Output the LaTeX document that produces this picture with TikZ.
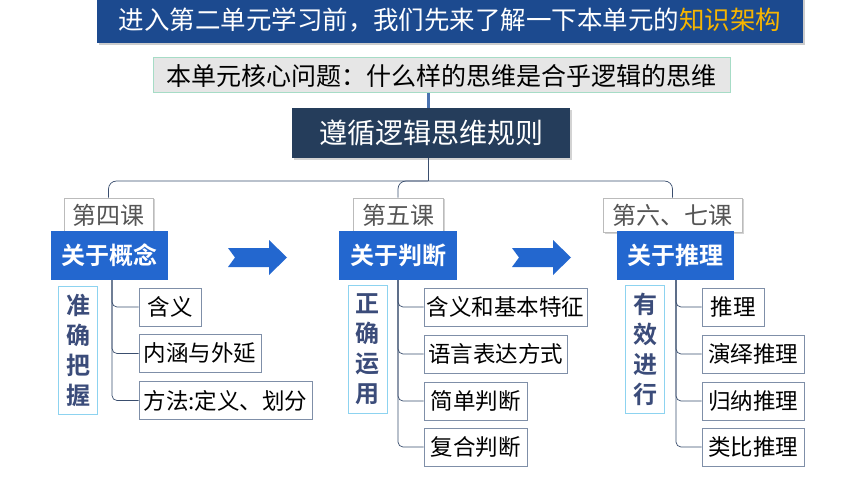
\documentclass[tikz,border=0pt]{standalone}
\usepackage{fontspec}
\setmainfont{Noto Sans CJK SC}[BoldFont={* Bold}]
\usetikzlibrary{shadows}
\definecolor{titlebg}{HTML}{1C4A8F}
\definecolor{titleyl}{HTML}{F7B500}
\definecolor{qbg}{HTML}{E6E6E6}
\definecolor{qbd}{HTML}{A6DCC6}
\definecolor{dkbg}{HTML}{253D5B}
\definecolor{bluebx}{HTML}{2367CF}
\definecolor{vbd}{HTML}{8DD3F0}
\definecolor{vtx}{HTML}{3B4C7A}
\definecolor{itbd}{HTML}{7F8FA8}
\definecolor{treec}{HTML}{3A4E6E}
\definecolor{qline}{HTML}{4A72B0}
\definecolor{lesstx}{HTML}{555555}
\definecolor{lessbd}{HTML}{BBBBBB}
\tikzset{
  fs/.style={font=\fontsize{#1pt}{#1pt}\selectfont},
  itembox/.style={draw=itbd, fill=white, line width=0.8pt, inner sep=0pt, minimum height=38pt, fs=22.5},
  lessonbox/.style={draw=lessbd, fill=white, line width=0.8pt, inner sep=0pt, minimum height=34pt, text=lesstx, fs=24, drop shadow={opacity=0.35, shadow xshift=1.5pt, shadow yshift=-1.5pt}},
  bluebox/.style={fill=bluebx, inner sep=0pt, minimum height=49pt, text=white, font=\fontsize{24pt}{24pt}\selectfont\bfseries},
  vbox/.style={draw=vbd, fill=white, line width=0.8pt, inner sep=0pt, minimum width=39pt, minimum height=128pt, text=vtx, align=center, font=\fontsize{24pt}{30pt}\selectfont\bfseries},
  conn/.style={draw=treec, line width=0.7pt, rounded corners=5pt},
  chev/.style={fill=bluebx, draw=none},
}
\begin{document}
\begin{tikzpicture}[x=1pt,y=-1pt]
\useasboundingbox (0,0) rectangle (860,484);
% title
\node[fill=titlebg, minimum width=706pt, minimum height=45pt, inner sep=0pt, text=white, fs=25.5,
  drop shadow={opacity=0.4, shadow xshift=2pt, shadow yshift=-2pt}] (title) at (450,20.5)
  {进入第二单元学习前，我们先来了解一下本单元的\textcolor{titleyl}{知识架构}};
% question
\node[fill=qbg, draw=qbd, line width=1pt, minimum width=577pt, minimum height=35pt, inner sep=0pt, fs=25] (q) at (441.5,75.5)
  {本单元核心问题：什么样的思维是合乎逻辑的思维};
% dark box
\node[fill=dkbg, minimum width=278pt, minimum height=50pt, inner sep=0pt, text=white, fs=28,
  drop shadow={opacity=0.35, shadow xshift=2pt, shadow yshift=-2pt}] (dk) at (431,133) {遵循逻辑思维规则};
\draw[qline, line width=3pt] (q.south -| 428,0) -- (dk.north -| 428,0);
% lesson boxes
\node[lessonbox, minimum width=89pt] (l4) at (108.5,215) {第四课};
\node[lessonbox, minimum width=90pt] (l5) at (398,215) {第五课};
\node[lessonbox, minimum width=139pt] (l6) at (672.5,215) {第六、七课};
% tree
\coordinate (hl) at (428,181);
\draw[conn] (dk.south -| hl) -- (hl);
\draw[conn, rounded corners=8pt] (l4.north) |- (hl) -| (l6.north);
\draw[conn, rounded corners=8pt] (l5.north) |- (hl);
% blue boxes
\node[bluebox, minimum width=117pt] (b1) at (109.5,255.5) {关于概念};
\node[bluebox, minimum width=118pt] (b2) at (398,255.5) {关于判断};
\node[bluebox, minimum width=117pt] (b3) at (675.5,255.5) {关于推理};
% arrows
\fill[chev] (228,248) -- (269,248) -- (269,240) -- (287,257.5) -- (269,275) -- (269,267) -- (228,267) -- (235,257.5) -- cycle;
\fill[chev] (512,248) -- (553,248) -- (553,240) -- (571,257.5) -- (553,275) -- (553,267) -- (512,267) -- (519,257.5) -- cycle;
% vertical labels
\node[vbox] (v1) at (78,350) {准\\确\\把\\握};
\node[vbox] (v2) at (367.5,349) {正\\确\\运\\用};
\node[vbox] (v3) at (645,349) {有\\效\\进\\行};
% items
\node[itembox, minimum width=62pt] (i11) at (170,307) {含义};
\node[itembox, minimum width=122pt] (i12) at (200,353.5) {内涵与外延};
\node[itembox, minimum width=173pt] (i13) at (225.5,400.5) {方法:定义、划分};
\node[itembox, minimum width=163pt] (i21) at (505.5,307) {含义和基本特征};
\node[itembox, minimum width=143pt] (i22) at (495.5,354) {语言表达方式};
\node[itembox, minimum width=103pt] (i23) at (475.5,401) {简单判断};
\node[itembox, minimum width=103pt] (i24) at (475.5,447) {复合判断};
\node[itembox, minimum width=62pt] (i31) at (733,307) {推理};
\node[itembox, minimum width=102pt] (i32) at (753,354) {演绎推理};
\node[itembox, minimum width=102pt] (i33) at (753,401) {归纳推理};
\node[itembox, minimum width=102pt] (i34) at (753,447) {类比推理};
% connectors
\coordinate (t1) at (112,280);
\coordinate (t2) at (398,280);
\coordinate (t3) at (676,280);
\draw[conn] (t1) |- (i11.west);
\draw[conn] (t1) |- (i12.west);
\draw[conn] (t1) |- (i13.west);
\draw[conn] (t2) |- (i21.west);
\draw[conn] (t2) |- (i22.west);
\draw[conn] (t2) |- (i23.west);
\draw[conn] (t2) |- (i24.west);
\draw[conn] (t3) |- (i31.west);
\draw[conn] (t3) |- (i32.west);
\draw[conn] (t3) |- (i33.west);
\draw[conn] (t3) |- (i34.west);
\end{tikzpicture}
\end{document}
